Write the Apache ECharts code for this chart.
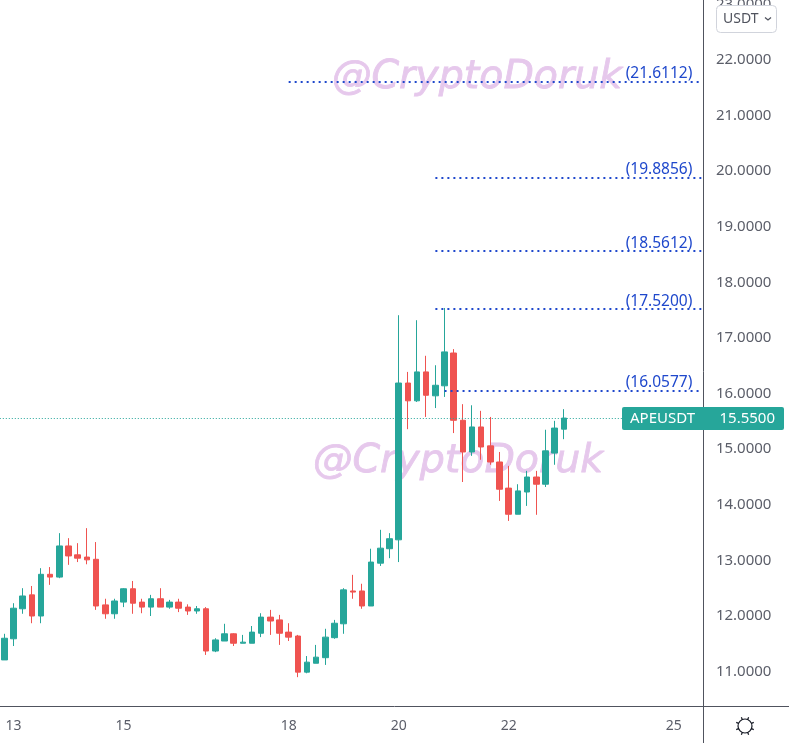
<!DOCTYPE html>
<html><head><meta charset="utf-8">
<style>html,body{margin:0;padding:0;background:#fff}#c{width:789px;height:749px}</style>
<script src="https://cdn.jsdelivr.net/npm/echarts@6/dist/echarts.min.js"></script>
</head><body><div id="c"></div>
<script>
const opens =[11.21,11.59,12.13,12.38,12.00,12.75,12.70,13.26,13.10,13.06,13.02,12.20,12.04,12.25,12.49,12.25,12.16,12.31,12.16,12.25,12.16,12.09,12.13,11.37,11.55,11.68,11.51,11.51,11.69,11.98,11.93,11.71,11.64,10.99,11.15,11.25,11.61,11.86,12.45,12.45,12.18,12.95,13.21,13.37,16.19,15.87,16.39,15.96,16.14,16.73,15.52,14.95,15.40,15.06,14.77,14.30,13.83,14.23,14.50,14.37,14.93,15.36];
const closes=[11.60,12.14,12.36,12.00,12.75,12.70,13.26,13.08,13.04,13.01,12.18,12.04,12.27,12.49,12.23,12.16,12.31,12.16,12.25,12.14,12.09,12.13,11.37,11.57,11.68,11.51,11.53,11.71,11.98,11.91,11.69,11.62,10.99,11.17,11.26,11.62,11.87,12.47,12.43,12.18,12.97,13.22,13.39,16.19,15.87,16.39,15.97,16.15,16.75,15.52,14.95,15.40,15.04,14.77,14.28,13.83,14.25,14.50,14.37,14.97,15.38,15.56];
const lows  =[11.21,11.46,12.04,11.87,11.87,12.56,12.68,12.92,12.97,12.93,12.11,11.95,11.95,12.16,12.04,12.05,12.00,12.16,12.13,12.07,12.02,12.04,11.30,11.35,11.55,11.46,11.51,11.51,11.62,11.66,11.48,11.55,10.90,10.97,11.15,11.12,11.59,11.68,12.31,12.13,12.18,12.90,13.04,12.97,15.36,15.85,15.58,15.74,15.94,15.29,14.41,14.88,14.81,14.72,14.07,13.71,13.83,13.98,13.82,14.32,14.72,15.18];
const highs =[11.68,12.23,12.50,12.54,12.86,12.88,13.49,13.40,13.31,13.58,13.33,12.31,12.31,12.50,12.63,12.31,12.38,12.50,12.29,12.31,12.21,12.18,12.16,11.60,11.86,11.69,11.66,11.82,12.05,12.11,12.02,11.87,11.66,11.28,11.48,11.77,11.93,12.50,12.74,12.58,13.21,13.55,13.49,17.41,16.39,17.32,16.68,16.51,17.54,16.80,15.81,15.79,15.69,15.58,14.95,14.70,14.37,14.61,14.61,15.35,15.51,15.72];
const slotCount = 77;
const dayLabels = {1:'13',13:'15',31:'18',43:'20',55:'22',73:'25'};
const levelValues = [21.6112,19.8856,18.5612,17.5200,16.0577];
const levelStarts = [31,47,47,47,48];
const lastPrice = 15.55;
const symbolName = 'APEUSDT';
const watermark = '@CryptoDoruk';
const categories = Array.from({length:slotCount},(_,i)=>dayLabels[i]||'');
const UP='#26a69a',DOWN='#ef5350',AX='#50535e',TXT='#5b5e69',BLUE='#1f48cc',FONT='"Noto Sans"';
const candles = opens.map((o,i)=>[o,closes[i],lows[i],highs[i]]);
const chart = echarts.init(document.getElementById('c'),null,{renderer:'canvas'});
const sun=[];
for(let k=0;k<8;k++){const a=(k+0.5)*Math.PI/4;
  sun.push({type:'line',z:60,silent:true,shape:{x1:745+7*Math.cos(a),y1:726+7*Math.sin(a),x2:745+9.5*Math.cos(a),y2:726+9.5*Math.sin(a)},style:{stroke:'#131722',lineWidth:1.2}});}
chart.setOption({
  animation:false,backgroundColor:'#fff',
  grid:{left:-0.2,top:4.4,width:706.1,height:722.8,containLabel:false,outerBoundsMode:'none'},
  xAxis:{type:'category',data:categories,offset:-8,
    axisLine:{show:false},axisTick:{show:false},splitLine:{show:false},
    axisLabel:{interval:0,color:TXT,fontFamily:FONT,fontSize:14,margin:0,hideOverlap:false}},
  yAxis:{type:'value',position:'right',offset:-3,min:10,max:23,interval:1,scale:true,
    axisLine:{show:false},axisTick:{show:false},splitLine:{show:false},
    axisLabel:{color:TXT,fontFamily:FONT,fontSize:15,margin:13,padding:[6,0,0,0],
      formatter:v=>v===10?'':v.toFixed(4)}},
  series:[{type:'candlestick',data:candles,barWidth:6,clip:false,z:3,
    itemStyle:{color:UP,color0:DOWN,borderColor:UP,borderColor0:DOWN,borderWidth:1},
    markLine:{silent:true,symbol:['none','none'],animation:false,
      data:[
        ...levelValues.map((v,i)=>[
          {coord:[levelStarts[i],v],lineStyle:{color:BLUE,width:2,type:[2,4]},
           label:{show:true,formatter:'('+v.toFixed(4)+')',position:'insideEndTop',distance:[9,0],color:BLUE,fontFamily:FONT,fontSize:15.5}},
          {coord:[slotCount-1,v]}]),
        {yAxis:lastPrice,lineStyle:{color:UP,width:1,type:[1,2]},label:{show:false}}
      ]}}],
  graphic:{elements:[
    {type:'text',z:0,silent:true,style:{x:332,y:78,text:watermark,fill:'#e6c8ec',stroke:'#e6c8ec',lineWidth:0.8,font:'italic 39.5px "DejaVu Sans"',verticalAlign:'middle'}},
    {type:'text',z:0,silent:true,style:{x:313,y:462,text:watermark,fill:'#e6c8ec',stroke:'#e6c8ec',lineWidth:0.8,font:'italic 39.5px "DejaVu Sans"',verticalAlign:'middle'}},
    {type:'line',z:40,silent:true,shape:{x1:703.5,y1:0,x2:703.5,y2:743},style:{stroke:AX,lineWidth:1}},
    {type:'line',z:40,silent:true,shape:{x1:0,y1:706.5,x2:789,y2:706.5},style:{stroke:AX,lineWidth:1}},
    {type:'rect',z:50,silent:true,shape:{x:622,y:407,width:162,height:23,r:2},style:{fill:UP}},
    {type:'text',z:51,silent:true,style:{x:630,y:419,text:symbolName,fill:'#fff',font:'15px '+FONT,verticalAlign:'middle'}},
    {type:'text',z:51,silent:true,style:{x:775,y:419,text:lastPrice.toFixed(4),fill:'#fff',font:'15px '+FONT,align:'right',verticalAlign:'middle'}},
    {type:'rect',z:50,silent:true,shape:{x:716.5,y:5.5,width:60,height:27,r:4},style:{fill:'#fff',stroke:'#d1d4dc',lineWidth:1}},
    {type:'text',z:51,silent:true,style:{x:723,y:19,text:'USDT',fill:'#50535e',font:'14px '+FONT,verticalAlign:'middle'}},
    {type:'polyline',z:51,silent:true,shape:{points:[[765,17.5],[768,20],[771,17.5]]},style:{stroke:'#50535e',fill:'none',lineWidth:1.3}},
    {type:'circle',z:60,silent:true,shape:{cx:745,cy:726,r:7},style:{fill:'none',stroke:'#131722',lineWidth:1.2}},
    ...sun
  ]}
});
</script></body></html>
